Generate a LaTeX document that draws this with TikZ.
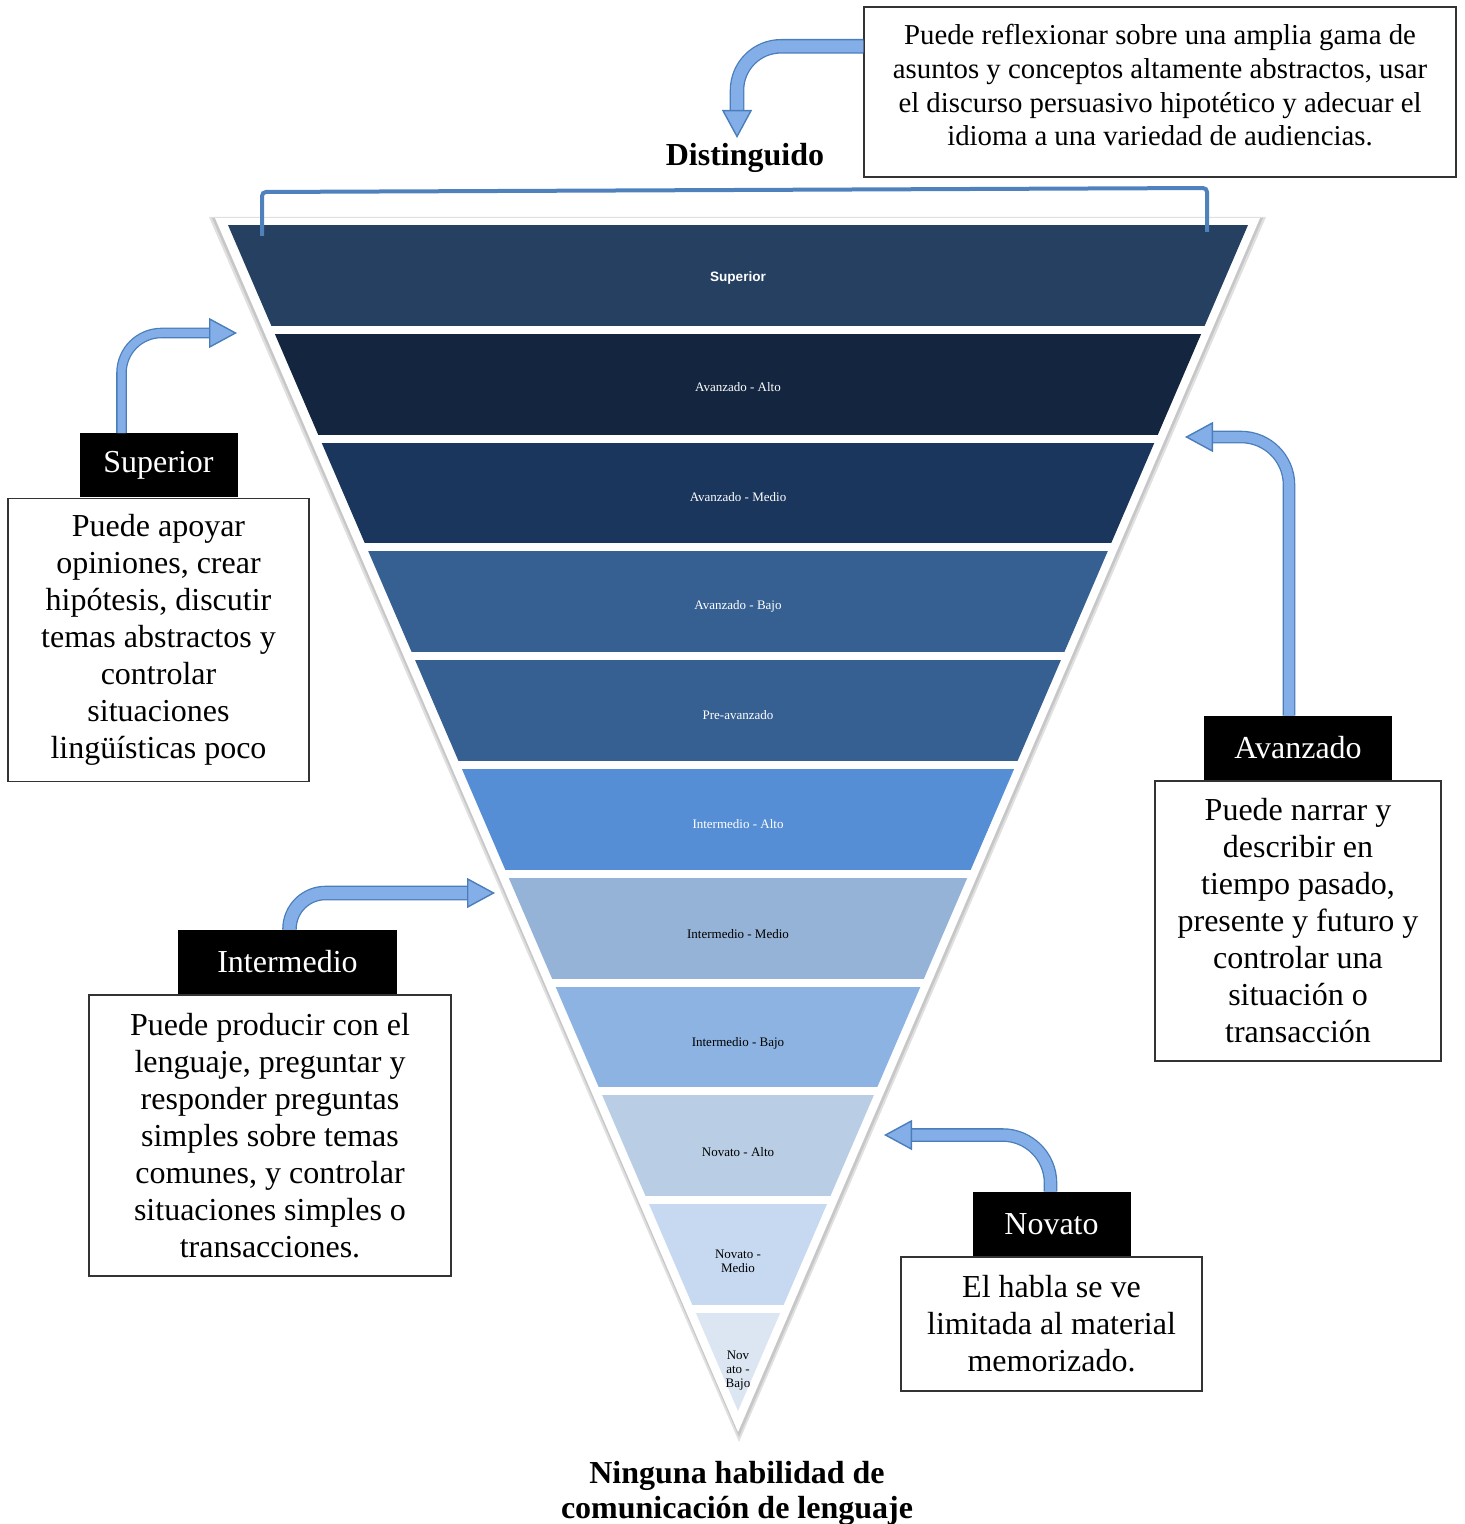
\documentclass[tikz,border=0pt]{standalone}
\usepackage{fontspec}
\setmainfont{Liberation Serif}
\setsansfont{Liberation Sans}
\usetikzlibrary{arrows.meta, positioning, shadows}
\usepackage{xcolor}

% band colours, darkest at the top
\definecolor{bandA}{RGB}{38,64,97}
\definecolor{bandB}{RGB}{20,37,64}
\definecolor{bandC}{RGB}{27,54,93}
\definecolor{bandD}{RGB}{55,96,146}
\definecolor{bandE}{RGB}{55,96,146}
\definecolor{bandF}{RGB}{85,142,213}
\definecolor{bandG}{RGB}{149,179,215}
\definecolor{bandH}{RGB}{141,179,226}
\definecolor{bandI}{RGB}{185,205,229}
\definecolor{bandJ}{RGB}{198,217,241}
\definecolor{bandK}{RGB}{220,230,242}
\definecolor{arrowfill}{RGB}{132,174,232}
\definecolor{arrowline}{RGB}{74,126,187}
\definecolor{bracketblue}{RGB}{79,129,189}

\begin{document}
\begin{tikzpicture}[
    x=0.5pt, y=-0.5pt,
    bandlabel/.style={font=\fontsize{6.5}{7}\selectfont, align=center, inner sep=0pt},
    levelbox/.style={draw=black!80, line width=0.7pt, inner sep=0pt, align=center, font=\fontsize{16}{18.5}\selectfont},
    tag/.style={fill=black, text=white, inner sep=0pt, minimum height=32pt, font=\fontsize{16}{18}\selectfont},
    title/.style={font=\bfseries\fontsize{16}{17.5}\selectfont, align=center, inner sep=0pt},
    blockarrow/.style={line width=#1, draw=arrowfill, rounded corners=20pt,
        -{Triangle[width=15pt, length=14pt, line width=0.7pt, color=arrowline, fill=arrowfill]},
        preaction={draw=arrowline, line width=#1+1.3pt, shorten >=12pt, -}},
    blockarrow/.default=5pt
]
\useasboundingbox (0,0) rectangle (1464,1524);

% Pyramid frame with a soft shadow on both sides
\fill[black!12] (209,217) -- (1266,217) -- (739,1442) -- cycle;
\fill[black!22] (212,218) -- (1263,218) -- (739,1437) -- cycle;
\fill[white] (215,218) -- (1260,218) -- (738,1432) -- cycle;

% Bands
\begin{scope}
    \clip (228,225) -- (1248,225) -- (738,1411) -- cycle;
    \foreach \fillcol [count=\i from 0] in {bandA,bandB,bandC,bandD,bandE,bandF,bandG,bandH,bandI,bandJ,bandK}
        \fill[\fillcol] (200, 225+\i*108.8) rectangle (1280, 325.8+\i*108.8);
\end{scope}

\foreach \txtcol/\lbl [count=\i from 0] in {
    white/{\sffamily\bfseries\fontsize{6.8}{7}\selectfont Superior},
    white/{Avanzado - Alto},
    white/{Avanzado - Medio},
    white/{Avanzado - Bajo},
    white/{Pre-avanzado},
    white/{Intermedio - Alto},
    black/{Intermedio - Medio},
    black/{Intermedio - Bajo},
    black/{Novato - Alto},
    black/{Novato -\\Medio},
    black/{Nov\\ato -\\Bajo}}
    \node[bandlabel, text=\txtcol] (band\i) at (738, 278+\i*109.3) {\lbl};

% Bracket over the top band
\draw[bracketblue, line width=2pt, rounded corners=2pt]
    (262,236) -- (262,192) -- (1207,188) -- (1207,232);

% Titles
\node[title] (distinguido) at (745,158) {Distinguido};
\node[title] (ninguna) at (737,1493) {Ninguna habilidad de\\comunicación de lenguaje};

% Description boxes
\node[levelbox, minimum width=296pt, minimum height=85pt, text depth=7pt, font=\fontsize{14.4}{16.9}\selectfont] (topbox) at (1160,92)
    {Puede reflexionar sobre una amplia gama de\\asuntos y conceptos altamente abstractos, usar\\el discurso persuasivo hipotético y adecuar el\\idioma a una variedad de audiencias.};
\node[levelbox, minimum width=150.5pt, minimum height=141.5pt] (supbox) at (158.5,640)
    {Puede apoyar\\opiniones, crear\\hipótesis, discutir\\temas abstractos y\\controlar\\situaciones\\lingüísticas poco};
\node[levelbox, minimum width=143pt, minimum height=140pt] (avzbox) at (1298,921)
    {Puede narrar y\\describir en\\tiempo pasado,\\presente y futuro y\\controlar una\\situación o\\transacción};
\node[levelbox, minimum width=181pt, minimum height=140.5pt] (intbox) at (270,1135.5)
    {Puede producir con el\\lenguaje, preguntar y\\responder preguntas\\simples sobre temas\\comunes, y controlar\\situaciones simples o\\transacciones.};
\node[levelbox, minimum width=150.5pt, minimum height=67pt] (novbox) at (1051.5,1324)
    {El habla se ve\\limitada al material\\memorizado.};

% Level tags
\node[tag, minimum width=79pt, above=0pt of supbox] (suptag) {Superior};
\node[tag, minimum width=94pt, above=0pt of avzbox] (avztag) {Avanzado};
\node[tag, minimum width=109.5pt, above=0pt of intbox, xshift=8.75pt] (inttag) {Intermedio};
\node[tag, minimum width=79pt, above=0pt of novbox] (novtag) {Novato};

% Arrow targets
\coordinate (toDist) at (737,138);
\coordinate (toSup) at (237,333);
\coordinate (toAvz) at (1185,437);
\coordinate (toInt) at (495,893);
\coordinate (toNov) at (884,1135);

% Arrows
\draw[blockarrow=6pt, rounded corners=22pt] ([yshift=-20pt]topbox.north west) -| (toDist);
\draw[blockarrow=4pt] ([xshift=-18.5pt]suptag.north) |- (toSup);
\draw[blockarrow=5pt, rounded corners=24pt] ([xshift=-4.5pt]avztag.north) |- (toAvz);
\draw[blockarrow=6pt, rounded corners=18pt] ([xshift=1pt]inttag.north) |- (toInt);
\draw[blockarrow=5.5pt, rounded corners=24pt] ([xshift=-0.5pt]novtag.north) |- (toNov);

\end{tikzpicture}
\end{document}
